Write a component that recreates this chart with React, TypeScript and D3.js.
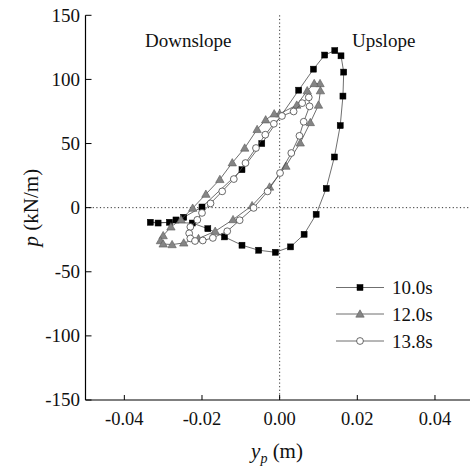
import React from "react";
import * as d3 from "d3";

// Pile displacement y_p (m) and soil reaction p (kN/m) loops at three instants
const yp10 = [-0.0333, -0.0225, -0.0185, -0.0142, -0.0097, -0.0054, -0.0011, 0.0028, 0.0063, 0.0094, 0.0120, 0.0141, 0.0156, 0.0163, 0.0165, 0.0158, 0.0142, 0.0116, 0.0087, 0.0049, -0.0046, -0.0097, -0.0200, -0.0247, -0.0267, -0.0284, -0.0313];
const p10 = [-11.4, -12.0, -16.4, -22.8, -29.3, -33.2, -34.8, -30.6, -20.8, -5.2, 15.0, 39.5, 64.0, 87.0, 105.7, 118.4, 122.5, 119.0, 108.0, 91.6, 50.0, 29.6, 0.5, -7.5, -9.6, -11.4, -12.0];

const yp12 = [0.0104, 0.0089, 0.0071, 0.0044, 0.0000, -0.0014, -0.0036, -0.0058, -0.0090, -0.0122, -0.0154, -0.0190, -0.0224, -0.0254, -0.0280, -0.0300, -0.0307, -0.0300, -0.0277, -0.0247, -0.0209, -0.0166, -0.0120, -0.0071, -0.0026, 0.0016, 0.0053, 0.0079, 0.0100, 0.0105];
const p12 = [96.8, 96.8, 91.2, 80.0, 73.2, 73.2, 68.5, 61.0, 46.5, 35.0, 22.0, 10.5, -0.4, -9.3, -15.0, -21.8, -25.7, -28.3, -28.8, -27.5, -24.1, -18.4, -9.3, 1.6, 16.1, 32.4, 50.5, 66.4, 80.0, 91.2];

const yp13 = [0.0075, 0.0058, 0.0036, 0.0006, -0.0015, -0.0037, -0.0061, -0.0088, -0.0118, -0.0148, -0.0178, -0.0200, -0.0212, -0.0230, -0.0233, -0.0230, -0.0218, -0.0198, -0.0172, -0.0135, -0.0103, -0.0067, -0.0031, 0.0001, 0.0030, 0.0051, 0.0062, 0.0077];
const p13 = [86.0, 81.5, 75.0, 71.5, 65.4, 56.9, 46.5, 34.8, 22.3, 12.7, 3.3, -4.1, -9.5, -15.0, -20.0, -24.0, -26.0, -25.6, -23.6, -18.4, -9.8, -0.2, 12.7, 27.0, 42.6, 56.0, 67.0, 79.0];

const seriesNames = ["10.0s", "12.0s", "13.8s"];
const xTicks = [-0.04, -0.02, 0.0, 0.02, 0.04];
const yTicks = [-150, -100, -50, 0, 50, 100, 150];

const W = 470;
const H = 466;
const FONT = "'Liberation Serif', 'Times New Roman', serif";
const LINE = "#4a4a4a";

const x = d3.scaleLinear().domain([-0.05, 0.05]).range([85.5, 473.8]);
const y = d3.scaleLinear().domain([-150, 150]).range([400, 15.3]);

type Pt = [number, number];
const zip = (a: number[], b: number[]): Pt[] => a.map((v, i) => [v, b[i]]);

const series = [
  { name: seriesNames[0], pts: zip(yp10, p10), shape: "square" },
  { name: seriesNames[1], pts: zip(yp12, p12), shape: "triangle" },
  { name: seriesNames[2], pts: zip(yp13, p13), shape: "circle" },
];

const loop = d3
  .line<Pt>()
  .x((d) => x(d[0]))
  .y((d) => y(d[1]))
  .curve(d3.curveLinearClosed);

function Marker({ shape, cx, cy }: { shape: string; cx: number; cy: number }) {
  if (shape === "square") {
    return <rect x={cx - 3} y={cy - 3} width={6} height={6} fill="#000" stroke="#000" strokeWidth={0.5} />;
  }
  if (shape === "triangle") {
    const s = 4.2;
    const d = `M${cx},${cy - s}L${cx + s},${cy + s * 0.75}L${cx - s},${cy + s * 0.75}Z`;
    return <path d={d} fill="#858585" stroke="#5a5a5a" strokeWidth={0.6} />;
  }
  return <circle cx={cx} cy={cy} r={3.4} fill="#fff" stroke="#444" strokeWidth={0.8} />;
}

export default function App() {
  const legendX = 336;
  const legendY = [287.5, 314, 341];
  return (
    <svg
      width={W}
      height={H}
      style={{ position: "absolute", left: 0, top: 0, background: "#fff" }}
      fontFamily={FONT}
    >
      <rect width={W} height={H} fill="#fff" />

      {/* zero reference lines */}
      <line x1={x.range()[0]} x2={W} y1={y(0)} y2={y(0)} stroke="#333" strokeWidth={1} strokeDasharray="1.2,2.4" />
      <line x1={x(0)} x2={x(0)} y1={y(150)} y2={y(-150)} stroke="#333" strokeWidth={1} strokeDasharray="1.2,2.4" />

      {/* region labels */}
      <text x={145} y={47} fontSize={19} fill="#111">Downslope</text>
      <text x={352} y={47} fontSize={19} fill="#111">Upslope</text>

      {/* loops */}
      {series.map((s) => (
        <g key={s.name}>
          <path d={loop(s.pts) ?? ""} fill="none" stroke={LINE} strokeWidth={0.8} />
          {s.pts.map((d, i) => (
            <Marker key={i} shape={s.shape} cx={x(d[0])} cy={y(d[1])} />
          ))}
        </g>
      ))}

      {/* axes */}
      <line x1={x.range()[0]} x2={x.range()[0]} y1={y(150)} y2={y(-150)} stroke="#000" strokeWidth={1.2} />
      <line x1={x.range()[0]} x2={W} y1={y(-150)} y2={y(-150)} stroke="#000" strokeWidth={1.2} />
      {yTicks.map((t) => (
        <g key={t}>
          <line x1={x.range()[0]} x2={x.range()[0] + 6} y1={y(t)} y2={y(t)} stroke="#000" strokeWidth={1} />
          <text x={80} y={y(t) + 6.3} fontSize={19} textAnchor="end" fill="#111">
            {t}
          </text>
        </g>
      ))}
      {xTicks.map((t) => (
        <g key={t}>
          <line x1={x(t)} x2={x(t)} y1={y(-150)} y2={y(-150) - 5} stroke="#000" strokeWidth={1} />
          <text x={x(t)} y={425} fontSize={18.5} textAnchor="middle" fill="#111">
            {t.toFixed(2)}
          </text>
        </g>
      ))}

      {/* axis titles */}
      <text x={277} y={458} fontSize={21} textAnchor="middle" fill="#111">
        <tspan fontStyle="italic">y</tspan>
        <tspan fontStyle="italic" fontSize={14} dy={5}>p</tspan>
        <tspan dy={-5}> (m)</tspan>
      </text>
      <text
        transform={`translate(38,${y(0)}) rotate(-90)`}
        fontSize={21}
        textAnchor="middle"
        fill="#111"
      >
        <tspan fontStyle="italic">p</tspan>
        <tspan> (kN/m)</tspan>
      </text>

      {/* legend */}
      {series.map((s, i) => (
        <g key={s.name}>
          <line x1={legendX} x2={legendX + 48} y1={legendY[i]} y2={legendY[i]} stroke={LINE} strokeWidth={0.8} />
          <Marker shape={s.shape} cx={legendX + 24} cy={legendY[i]} />
          <text x={392} y={legendY[i] + 6.5} fontSize={19} fill="#111">
            {s.name}
          </text>
        </g>
      ))}
    </svg>
  );
}
